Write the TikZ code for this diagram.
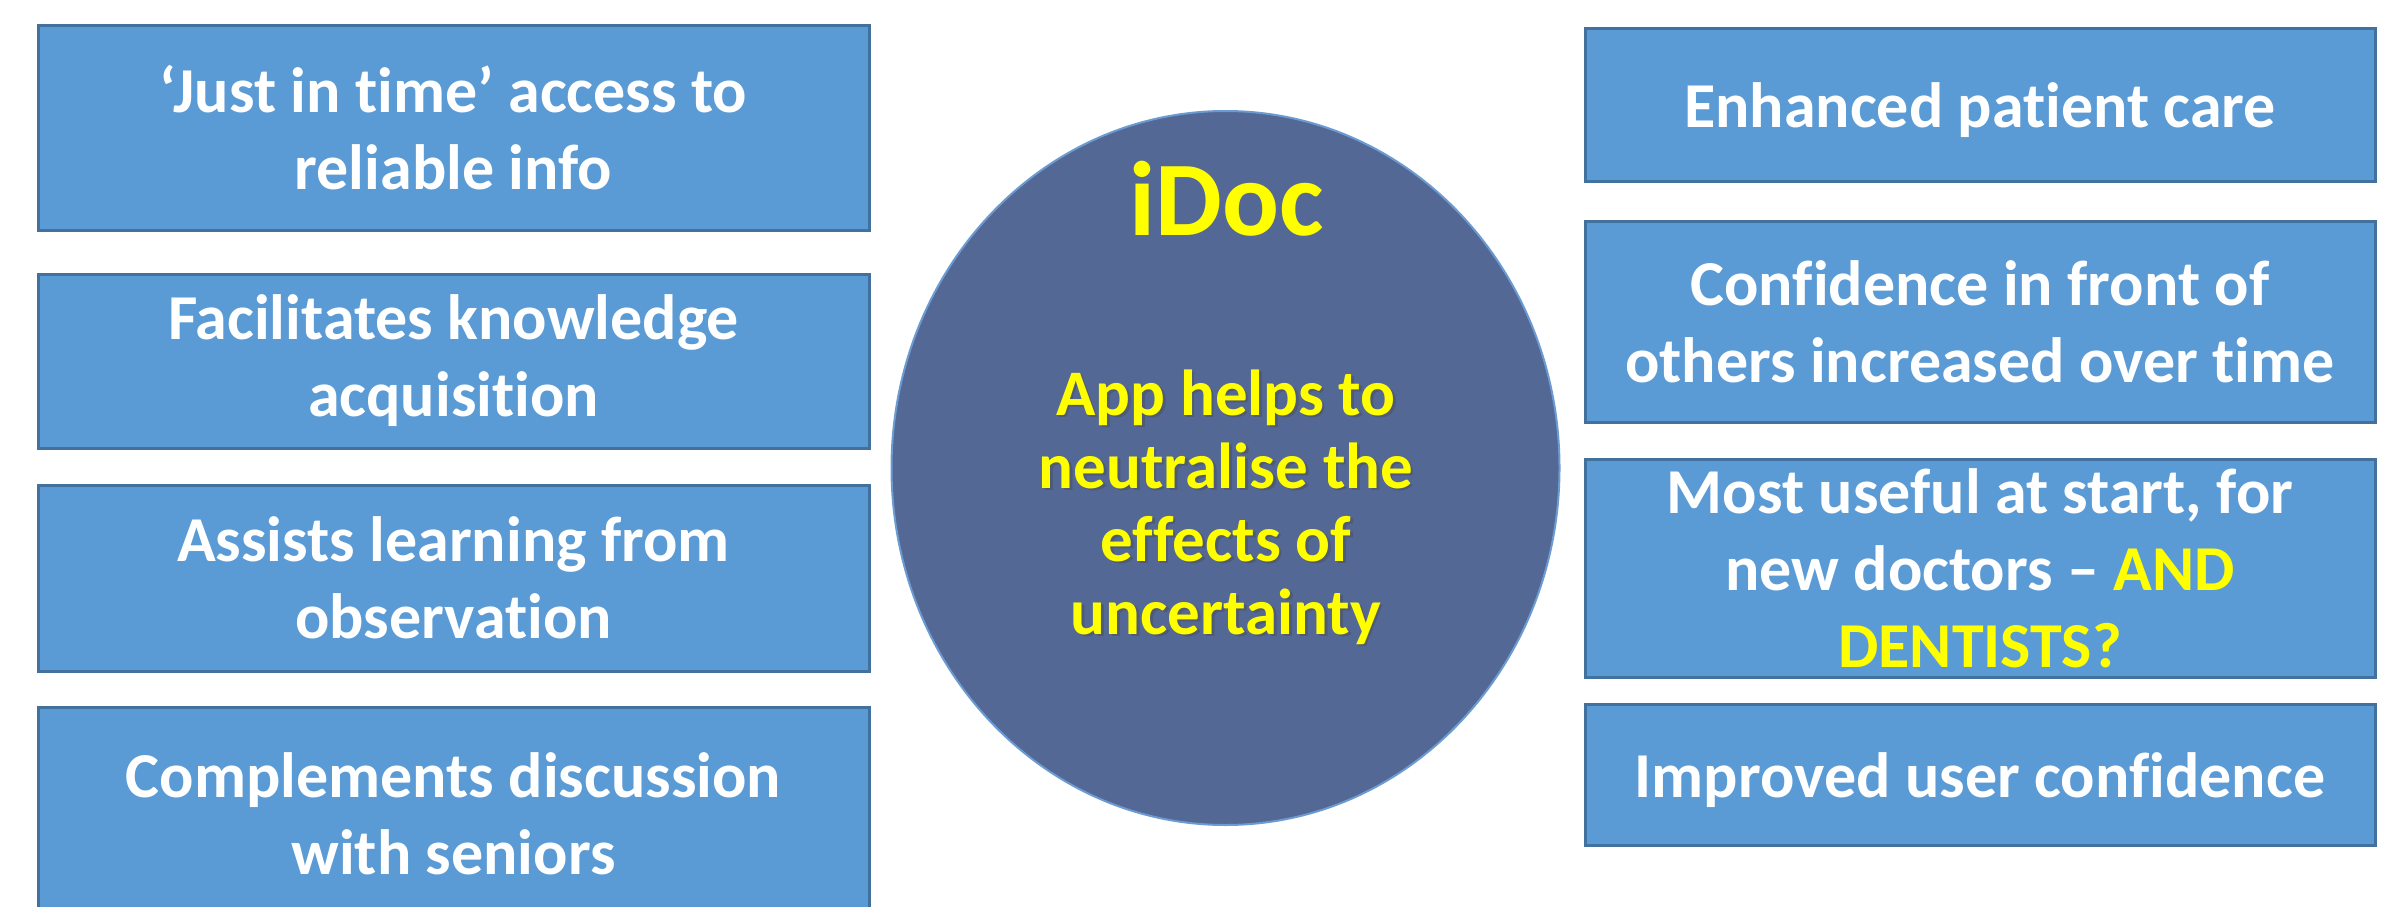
\documentclass[tikz,border=0pt]{standalone}
\usepackage{fontspec}
\setmainfont{Carlito}[RawFeature={-liga;-dlig}]
\usetikzlibrary{shapes.geometric}
\definecolor{boxfill}{HTML}{5B9BD5}
\definecolor{boxline}{HTML}{41719C}
\definecolor{hubfill}{HTML}{536895}
\definecolor{hubline}{HTML}{6C9BD2}
\definecolor{hilite}{HTML}{FFFF00}
\begin{document}
\begin{tikzpicture}[x=1pt,y=-1pt,
  infobox/.style={rectangle, draw=boxline, fill=boxfill, line width=3pt,
    inner sep=0pt, align=center, text=white,
    font=\fontsize{64}{77}\selectfont\bfseries},
  oneline/.style={text height=58pt, text depth=13pt},
  hub/.style={ellipse, draw=hubline, fill=hubfill, line width=2pt, inner sep=0pt},
  hubtext/.style={align=center, text=hilite, inner sep=0pt,
    font=\fontsize{65}{73}\selectfont\bfseries}
]
\useasboundingbox (0,0) rectangle (2390,907);
\clip (0,0) rectangle (2390,907);

% left column
\node[infobox, minimum width=831pt, minimum height=204pt] (l1) at (453.5,128)
  {‘Just in time’ access to\\reliable info};
\node[infobox, minimum width=831pt, minimum height=174pt] (l2) at (453.5,361)
  {Facilitates knowledge\\acquisition};
\node[infobox, minimum width=831pt, minimum height=186pt] (l3) at (453.5,578)
  {Assists learning from\\observation};
\node[infobox, minimum width=831pt, minimum height=214pt] (l4) at (453.5,814)
  {Complements discussion\\with seniors};

% right column
\node[infobox, oneline, minimum width=790pt, minimum height=152pt] (r1) at (1980,105)
  {Enhanced patient care};
\node[infobox, minimum width=790pt, minimum height=201pt] (r2) at (1980,321.5)
  {Confidence in front of\\others increased over time};
\node[infobox, minimum width=790pt, minimum height=218pt] (r3) at (1980,568)
  {Most useful at start, for\\new doctors – \textcolor{hilite}{AND}\\\textcolor{hilite}{DENTISTS?}};
\node[infobox, oneline, minimum width=790pt, minimum height=141pt] (r4) at (1980,774.5)
  {Improved user confidence};

% central hub
\node[hub, minimum width=668pt, minimum height=714pt] (hub) at (1225.5,468) {};
\node[anchor=base, text=hilite, inner sep=0pt,
  font=\fontsize{106}{120}\selectfont\bfseries] (title) at (1227,235) {iDoc};
\node[hubtext, text=black!70, opacity=0.45] (msgshadow) at (1228.5,509.5)
  {App helps to\\neutralise the\\effects of\\uncertainty};
\node[hubtext] (msg) at (1226,507)
  {App helps to\\neutralise the\\effects of\\uncertainty};
\end{tikzpicture}
\end{document}
